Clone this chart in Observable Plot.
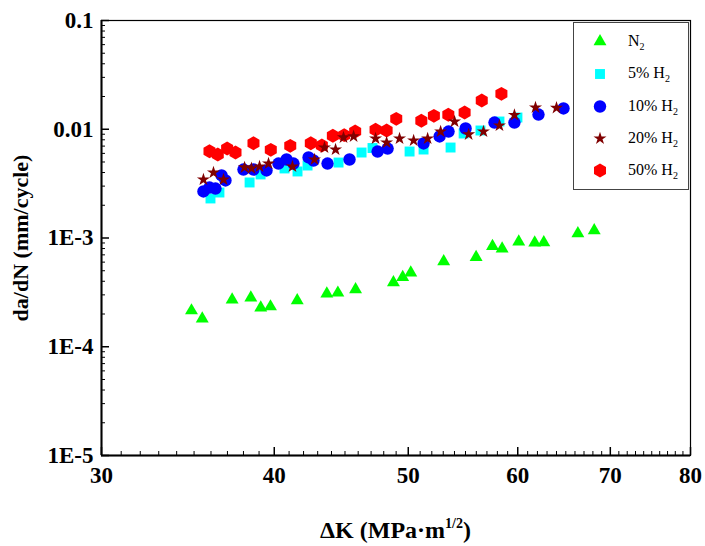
<!DOCTYPE html>
<html><head><meta charset="utf-8">
<script src="https://cdn.jsdelivr.net/npm/d3@7"></script>
<script src="https://cdn.jsdelivr.net/npm/@observablehq/plot@0.6"></script>
<style>
body{margin:0;background:#fff;}
#wrap{position:relative;width:705px;height:546px;font-family:"Liberation Serif","Times New Roman",serif;overflow:hidden;}
#wrap svg, #wrap svg text{font-family:"Liberation Serif","Times New Roman",serif !important;}
#legend{position:absolute;left:573px;top:22px;width:116px;height:168px;border:1px solid #444;background:#fff;box-sizing:border-box;}
#legend svg{position:absolute;left:0;top:0;}
.lab{position:absolute;left:54px;font-size:16px;line-height:18px;white-space:nowrap;color:#000;}
.lab sub{font-size:10px;vertical-align:-4px;line-height:0;}
#xtitle{position:absolute;left:101px;width:589px;top:517px;text-align:center;font-weight:bold;font-size:24px;line-height:27px;}
#xtitle sup{font-size:14px;vertical-align:10px;line-height:0;}
</style></head><body><div id="wrap"></div>
<script>
// ---- data ----
const seriesNames = ["N2", "5% H2", "10% H2", "20% H2", "50% H2"];
const seriesColors = ["#00ff00", "#00ffff", "#0000ff", "#800000", "#ff0000"];
const seriesSymbols = ["triangle", "square", "circle", "star", "hexagon"];

const n2K = [34.85, 35.48, 37.29, 38.47, 39.11, 39.75, 41.56, 43.66, 44.47, 45.80, 48.78, 49.54, 50.21, 53.04, 55.98, 57.53, 58.46, 60.10, 61.72, 62.66, 66.32, 68.15];
const n2Rate = [2.15e-4, 1.81e-4, 2.70e-4, 2.82e-4, 2.28e-4, 2.34e-4, 2.66e-4, 3.07e-4, 3.13e-4, 3.36e-4, 3.90e-4, 4.36e-4, 4.79e-4, 6.08e-4, 6.66e-4, 8.40e-4, 7.96e-4, 9.23e-4, 9.03e-4, 9.09e-4, 1.10e-3, 1.17e-3];

const h5K = [35.97, 36.51, 38.39, 39.10, 40.69, 41.58, 42.28, 44.52, 46.26, 47.11, 50.11, 51.29, 53.65, 54.83, 56.39, 58.20, 59.97];
const h5Rate = [0.00231, 0.00262, 0.00324, 0.00384, 0.00436, 0.00409, 0.00464, 0.00494, 0.00611, 0.00672, 0.00624, 0.00651, 0.00679, 0.00914, 0.00974, 0.01178, 0.01282];

const h10K = [35.55, 35.91, 36.27, 36.64, 36.88, 38.00, 38.64, 39.49, 40.28, 40.83, 41.30, 42.35, 42.70, 43.71, 45.34, 47.51, 48.31, 51.29, 52.68, 53.47, 55.01, 57.72, 59.67, 62.11, 64.75];
const h10Rate = [0.00268, 0.00291, 0.00285, 0.00376, 0.00338, 0.00426, 0.00426, 0.00418, 0.00484, 0.00527, 0.00484, 0.00550, 0.00516, 0.00484, 0.00527, 0.00624, 0.00665, 0.00740, 0.00858, 0.00953, 0.01016, 0.01153, 0.01153, 0.01366, 0.01552];

const h20K = [35.55, 36.15, 36.76, 38.07, 38.51, 39.03, 39.62, 41.23, 42.77, 43.49, 44.30, 44.89, 45.65, 47.35, 48.23, 49.28, 50.45, 51.64, 52.77, 54.01, 55.29, 56.67, 58.20, 59.67, 61.80, 64.00];
const h20Rate = [0.00345, 0.00400, 0.00345, 0.00445, 0.00436, 0.00454, 0.00484, 0.00454, 0.00527, 0.00679, 0.00651, 0.00840, 0.00858, 0.00822, 0.00755, 0.00822, 0.00788, 0.00822, 0.00953, 0.01178, 0.00895, 0.00953, 0.01082, 0.01352, 0.01585, 0.01569];

const h50K = [35.91, 36.41, 36.98, 37.50, 38.64, 39.77, 41.08, 42.51, 43.30, 44.10, 44.94, 45.77, 47.35, 48.23, 49.01, 51.10, 52.18, 53.45, 54.92, 56.51, 58.39];
const h50Rate = [0.00628, 0.00586, 0.00665, 0.00611, 0.00744, 0.00647, 0.00704, 0.00744, 0.00709, 0.00871, 0.00882, 0.00953, 0.00989, 0.00974, 0.01247, 0.01196, 0.01329, 0.01358, 0.01426, 0.01838, 0.02118];

const xTicks = [30, 40, 50, 60, 70, 80];
const xTickLabels = ["30", "40", "50", "60", "70", "80"];
const yTicks = [0.1, 0.01, 1e-3, 1e-4, 1e-5];
const yTickLabels = ["0.1", "0.01", "1E-3", "1E-4", "1E-5"];
const xTitle = "ΔK (MPa·m";
const xTitleSup = "1/2";
const yTitle = "da/dN (mm/cycle)";

// ---- build table ----
const seriesK = [n2K, h5K, h10K, h20K, h50K];
const seriesRate = [n2Rate, h5Rate, h10Rate, h20Rate, h50Rate];
const rows = [];
seriesNames.forEach((name, s) => seriesK[s].forEach((k, i) => rows.push({series: name, K: k, rate: seriesRate[s][i]})));

const xMinor = d3.range(31, 80).filter(v => v % 10 !== 0);
const yMinor = [];
for (let e = -5; e <= -2; e++) for (let m = 2; m <= 9; m++) yMinor.push(m * Math.pow(10, e));

const FONT = '"Liberation Serif","Times New Roman",serif';
const W = 705, H = 546, ML = 101, MR = 15, MT = 20, MB = 91;
const FW = W - ML - MR, FH = H - MT - MB;
const symR = {triangle: 4.8, square: 5.6, circle: 6.2, star: 4.1, hexagon: 6.0};
const drawOrder = [0, 1, 2, 4, 3];

const dotMarks = drawOrder.map(s => Plot.dot(rows.filter(d => d.series === seriesNames[s]), {
  x: "K", y: "rate", symbol: seriesSymbols[s], fill: seriesColors[s], r: symR[seriesSymbols[s]], stroke: "none"
}));

const chart = Plot.plot({
  width: W, height: H,
  marginLeft: ML, marginRight: MR, marginTop: MT, marginBottom: MB,
  x: {type: "log", domain: [30, 80]},
  y: {type: "log", domain: [1e-5, 0.1]},
  style: {fontFamily: FONT, background: "white", color: "black", overflow: "visible"},
  marks: [
    ...dotMarks,
    Plot.ruleX(xTicks, {insetTop: FH - 8, strokeWidth: 1.5, stroke: "black"}),
    Plot.ruleX(xMinor, {insetTop: FH - 4, strokeWidth: 1, stroke: "black"}),
    Plot.ruleY(yTicks, {insetRight: FW - 8, strokeWidth: 1.5, stroke: "black"}),
    Plot.ruleY(yMinor, {insetRight: FW - 4, strokeWidth: 1, stroke: "black"}),
    Plot.frame({stroke: "black", strokeWidth: 1.2}),
    Plot.ruleX([30], {stroke: "black", strokeWidth: 2}),
    Plot.ruleY([1e-5], {stroke: "black", strokeWidth: 2}),
    Plot.axisX(xTicks, {tickSize: 0, tickPadding: 11, tickFormat: d => xTickLabels[xTicks.indexOf(d)], fontSize: 23, fontWeight: "bold", fontFamily: FONT, label: null}),
    Plot.axisY(yTicks, {tickSize: 0, tickPadding: 8, tickFormat: d => yTickLabels[yTicks.indexOf(d)], fontSize: 23, fontWeight: "bold", fontFamily: FONT, label: null}),
    Plot.text([yTitle], {frameAnchor: "left", textAnchor: "middle", dx: -81, rotate: -90, fontSize: 22, fontWeight: "bold", fontFamily: FONT, fill: "black"})
  ]
});

const wrap = document.getElementById("wrap");
wrap.appendChild(chart);

// x title (with superscript)
const xt = document.createElement("div");
xt.id = "xtitle";
xt.innerHTML = `${xTitle}<sup>${xTitleSup}</sup>)`;
wrap.appendChild(xt);

// legend
const legend = document.createElement("div");
legend.id = "legend";
wrap.appendChild(legend);
const rowY = [18.5, 51, 83.5, 115.5, 147.5];
const hexagon = {
  draw(context, size) {
    const rx = Math.sqrt(size / Math.PI), ry = rx * 2 / Math.sqrt(3), hy = ry / 2;
    context.moveTo(0, ry); context.lineTo(rx, hy); context.lineTo(rx, -hy);
    context.lineTo(0, -ry); context.lineTo(-rx, -hy); context.lineTo(-rx, hy); context.closePath();
  }
};
const d3Types = {triangle: d3.symbolTriangle, square: d3.symbolSquare, circle: d3.symbolCircle, star: d3.symbolStar, hexagon};
const lsvg = d3.select(legend).append("svg").attr("width", 116).attr("height", 168);
seriesNames.forEach((name, s) => {
  const r = symR[seriesSymbols[s]];
  lsvg.append("path")
    .attr("transform", `translate(26,${rowY[s]})`)
    .attr("d", d3.symbol(d3Types[seriesSymbols[s]], Math.PI * r * r)())
    .attr("fill", seriesColors[s]);
  const lab = document.createElement("div");
  lab.className = "lab";
  lab.style.top = (rowY[s] - 10) + "px";
  lab.innerHTML = name.replace(/2$/, "<sub>2</sub>");
  legend.appendChild(lab);
});
</script>
</body></html>
